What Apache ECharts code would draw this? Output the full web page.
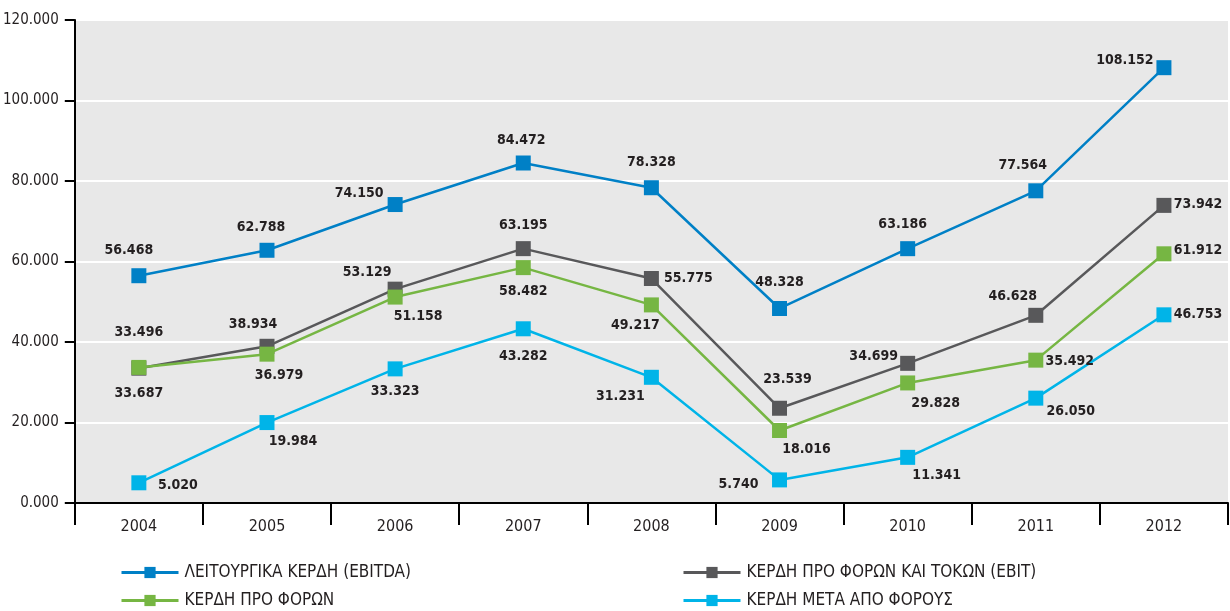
<!DOCTYPE html>
<html>
<head>
<meta charset="utf-8">
<script src="https://cdn.jsdelivr.net/npm/echarts@6/dist/echarts.min.js"></script>
<style>html,body{margin:0;padding:0;background:#fff}#c{width:1230px;height:611px}</style>
</head>
<body>
<div id="c"></div>
<script>
const categories = ['2004','2005','2006','2007','2008','2009','2010','2011','2012'];
const yTicks = [0, 20, 40, 60, 80, 100, 120];
const seriesNames = ['ΛΕΙΤΟΥΡΓΙΚΑ ΚΕΡΔΗ (EBITDA)', 'ΚΕΡΔΗ ΠΡΟ ΦΟΡΩΝ ΚΑΙ ΤΟΚΩΝ (EBIT)', 'ΚΕΡΔΗ ΠΡΟ ΦΟΡΩΝ', 'ΚΕΡΔΗ ΜΕΤΑ ΑΠΟ ΦΟΡΟΥΣ'];
const ebitda  = [56.468, 62.788, 74.150, 84.472, 78.328, 48.328, 63.186, 77.564, 108.152];
const ebit    = [33.496, 38.934, 53.129, 63.195, 55.775, 23.539, 34.699, 46.628, 73.942];
const preTax  = [33.687, 36.979, 51.158, 58.482, 49.217, 18.016, 29.828, 35.492, 61.912];
const afterTax= [5.020, 19.984, 33.323, 43.282, 31.231, 5.740, 11.341, 26.050, 46.753];

// label offsets (style only)
const offEbitda  = [[-10,-25],[-6,-23],[-36,-11],[-2,-23],[0,-25],[0,-26],[-5,-24],[-13,-25],[-39,-7]];
const offEbit    = [[0,-36],[-14,-22],[-28,-17],[0,-23],[37,0],[8,-29],[-34,-7],[-23,-19],[34,-1]];
const offPreTax  = [[0,26],[12,21],[23,19],[0,24],[-16,20],[27,19],[28,20],[34,1],[34,-3]];
const offAfterTax= [[39,3],[26,19],[0,22],[0,28],[-31,19],[-41,4],[29,18],[35,13],[34,0]];

const colors = ['#0080c6', '#58585a', '#76b643', '#00b4e8'];
const FONT = '"Liberation Sans Narrow", "DejaVu Sans Condensed", "Roboto", sans-serif';
const TXT = '#231f20';

function mk(name, vals, offs, color, z) {
  return {
    name: name, type: 'line', z: z,
    symbol: 'rect', symbolSize: 15,
    lineStyle: { color: color, width: 2.5 },
    itemStyle: { color: color },
    emphasis: { disabled: true },
    animation: false,
    data: vals.map((v, i) => ({
      value: v,
      label: { offset: offs[i] }
    })),
    label: {
      show: true, position: 'inside',
      formatter: p => p.value.toFixed(3),
      fontFamily: FONT, fontWeight: 'bold', fontSize: 14, color: TXT
    }
  };
}

function lg(name, left, top) {
  return {
    data: [name], left: left, top: top, itemWidth: 57, itemHeight: 14,
    lineStyle: { width: 3 },
    textStyle: { fontFamily: FONT, fontSize: 17, color: TXT, padding: [0, 0, 0, 1] },
    selectedMode: false
  };
}

const chart = echarts.init(document.getElementById('c'));
chart.setOption({
  animation: false,
  color: colors,
  grid: { left: 74, right: 2, top: 20, bottom: 108, show: true, backgroundColor: '#e8e8e8', borderWidth: 0 },
  xAxis: {
    type: 'category', data: categories, boundaryGap: true,
    axisLine: { lineStyle: { color: '#000', width: 2 } },
    axisTick: { show: true, length: 22, lineStyle: { color: '#000', width: 2 } },
    axisLabel: { margin: 16, fontFamily: FONT, fontSize: 16, color: TXT },
    splitLine: { show: false }
  },
  yAxis: {
    type: 'value', min: yTicks[0], max: yTicks[yTicks.length - 1], interval: yTicks[1] - yTicks[0],
    axisLine: { show: true, lineStyle: { color: '#000', width: 2 } },
    axisTick: { show: true, length: 10, lineStyle: { color: '#000', width: 2 } },
    axisLabel: { margin: 16, fontFamily: FONT, fontSize: 15, color: TXT, formatter: v => v.toFixed(3) },
    splitLine: { show: true, lineStyle: { color: '#ffffff', width: 2 } }
  },
  legend: [
    lg(seriesNames[0], 115, 559),
    lg(seriesNames[2], 115, 587),
    lg(seriesNames[1], 677, 559),
    lg(seriesNames[3], 677, 587)
  ],
  series: [
    mk(seriesNames[3], afterTax, offAfterTax, colors[3], 2),
    mk(seriesNames[2], preTax, offPreTax, colors[2], 3),
    mk(seriesNames[1], ebit, offEbit, colors[1], 2),
    mk(seriesNames[0], ebitda, offEbitda, colors[0], 2)
  ]
});
</script>
</body>
</html>
